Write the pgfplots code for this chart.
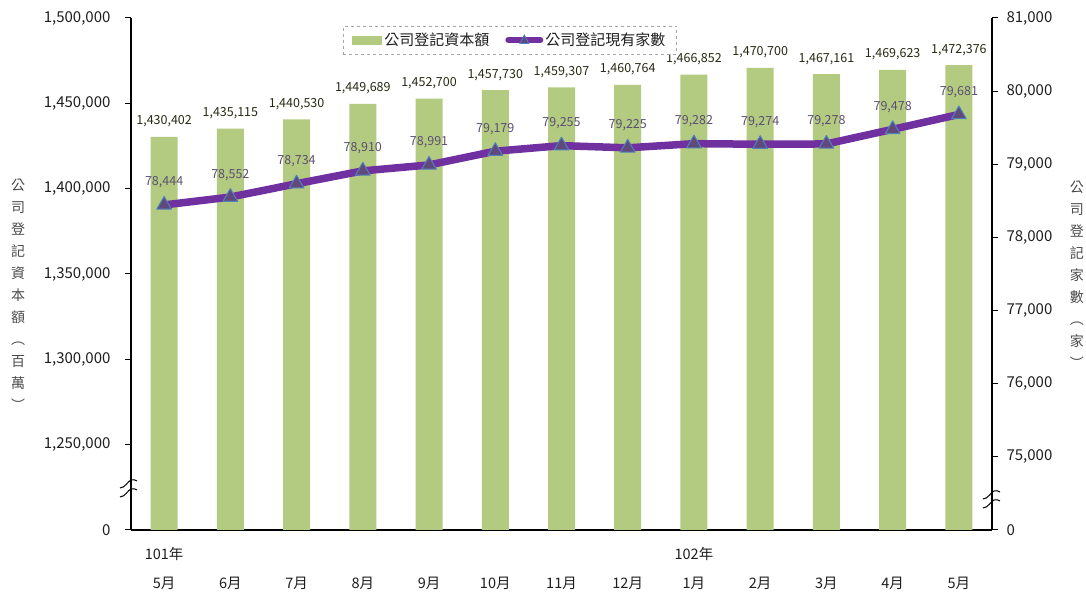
\documentclass[border=0pt]{standalone}
\usepackage{fontspec}
\setmainfont{Noto Sans CJK TC}
\usepackage{pgfplots}
\pgfplotsset{compat=1.18}
\definecolor{barg}{RGB}{179,203,128}
\definecolor{linep}{RGB}{112,48,160}
\definecolor{markp}{RGB}{96,74,123}
\definecolor{markedge}{RGB}{79,129,189}
\definecolor{lblp}{RGB}{92,78,115}
\definecolor{lblg}{RGB}{40,40,20}
\definecolor{txt}{RGB}{30,30,30}
\begin{document}
\begin{tikzpicture}[x=1pt,y=1pt]
\useasboundingbox (-131,-63) rectangle (955,530);
\begin{axis}[
  at={(0,0)}, anchor=south west, scale only axis, width=861pt, height=512pt,
  xmin=-0.5, xmax=12.5, ymin=1200000, ymax=1500000,
  scaled y ticks=false,
  axis x line*=bottom, axis y line*=left,
  axis line style={black, line width=1.5pt, -},
  ybar, bar width=27pt,
  xtick={0,...,12},
  xticklabels={{101年\\5月},{\vphantom{年}\\6月},{\vphantom{年}\\7月},{\vphantom{年}\\8月},{\vphantom{年}\\9月},{\vphantom{年}\\10月},{\vphantom{年}\\11月},{\vphantom{年}\\12月},{102年\\1月},{\vphantom{年}\\2月},{\vphantom{年}\\3月},{\vphantom{年}\\4月},{\vphantom{年}\\5月}},
  xticklabel style={align=center, font=\fontsize{14.5}{29}\selectfont, text=txt, yshift=-8pt},
  x tick style={draw=none},
  ytick={1200000,1250000,1300000,1350000,1400000,1450000,1500000},
  yticklabels={0,{1,250,000},{1,300,000},{1,350,000},{1,400,000},{1,450,000},{1,500,000}},
  yticklabel style={font=\fontsize{15}{18}\selectfont, text=txt, xshift=-11pt},
  y tick style={black, line width=1pt},
  tick align=outside, major tick length=6pt,
  ylabel={公\\司\\登\\記\\資\\本\\額\\︵\\百\\萬\\︶},
  ylabel style={at={(axis description cs:-0.131,0.459)}, rotate=-90, anchor=center, align=center, font=\fontsize{14}{22}\selectfont, text=txt!80},
  /pgf/number format/.cd, fixed, precision=0, 1000 sep={,}, assume math mode=true, /pgfplots/.cd,
  nodes near coords,
  nodes near coords style={anchor=base, inner sep=0pt, yshift=12pt, font=\fontsize{12.5}{14}\selectfont, text=lblg},
  legend style={at={(0.44,0.957)}, anchor=center, draw=gray!70, dashed, legend columns=2,
    font=\fontsize{15}{18}\selectfont, text=txt, inner xsep=9pt, inner ysep=5pt,
    /tikz/every even column/.append style={column sep=14pt}},
  clip=true,
]
\addplot[fill=barg, draw=none,
  legend image code/.code={\fill[barg, solid] (0pt,-4.5pt) rectangle (30pt,4.5pt);}]
  coordinates {(0,1430402) (1,1435115) (2,1440530) (3,1449689) (4,1452700) (5,1457730) (6,1459307) (7,1460764) (8,1466852) (9,1470700) (10,1467161) (11,1469623) (12,1472376)};
\addlegendentry{公司登記資本額}
\addlegendimage{legend image code/.code={
  \draw[linep, solid, line width=6pt, line cap=round] (0pt,0pt) -- (32pt,0pt);
  \draw[solid, fill=markp, draw=markedge, line width=0.8pt] (16pt,5pt) -- (11.5pt,-3.5pt) -- (20.5pt,-3.5pt) -- cycle;}}
\addlegendentry{公司登記現有家數}
\end{axis}
\begin{axis}[
  at={(0,0)}, anchor=south west, scale only axis, width=861pt, height=512pt,
  xmin=-0.5, xmax=12.5, ymin=74000, ymax=81000,
  scaled y ticks=false,
  axis x line=none, axis y line*=right,
  axis line style={black, line width=1.5pt, -},
  ytick={74000,75000,76000,77000,78000,79000,80000,81000},
  yticklabels={0,{75,000},{76,000},{77,000},{78,000},{79,000},{80,000},{81,000}},
  yticklabel style={font=\fontsize{15}{18}\selectfont, text=txt, xshift=5pt},
  y tick style={black, line width=1pt},
  tick align=outside, major tick length=6pt,
  ylabel={公\\司\\登\\記\\家\\數\\︵\\家\\︶},
  ylabel style={at={(axis description cs:1.0987,0.498)}, rotate=-90, anchor=center, align=center, font=\fontsize{14}{22}\selectfont, text=txt!80},
  /pgf/number format/.cd, fixed, precision=0, 1000 sep={,}, assume math mode=true, /pgfplots/.cd,
  clip=false,
]
\addplot[linep, line width=7.5pt, line join=round, mark=triangle*, mark size=8.5pt,
  mark options={fill=markp, draw=markedge, line width=1pt},
  nodes near coords,
  nodes near coords style={anchor=base, inner sep=0pt, yshift=19pt, font=\fontsize{12.5}{14}\selectfont, text=lblp}]
  coordinates {(0,78444) (1,78552) (2,78734) (3,78910) (4,78991) (5,79179) (6,79255) (7,79225) (8,79282) (9,79274) (10,79278) (11,79478) (12,79681)};
\end{axis}
% axis break marks
\draw[black, line width=1pt] (-11,33) .. controls (-6,33) and (-3,40) .. (0,41) .. controls (2,42) and (4,41) .. (6,40);
\draw[black, line width=1pt] (-11,42) .. controls (-6,42) and (-3,49) .. (0,50) .. controls (2,51) and (4,50) .. (6,49);
\draw[black, line width=1pt] (852,22) .. controls (857,22) and (860,29) .. (863,30) .. controls (865,31) and (867,30) .. (869,29);
\draw[black, line width=1pt] (852,31) .. controls (857,31) and (860,38) .. (863,39) .. controls (865,40) and (867,39) .. (869,38);
\end{tikzpicture}
\end{document}
